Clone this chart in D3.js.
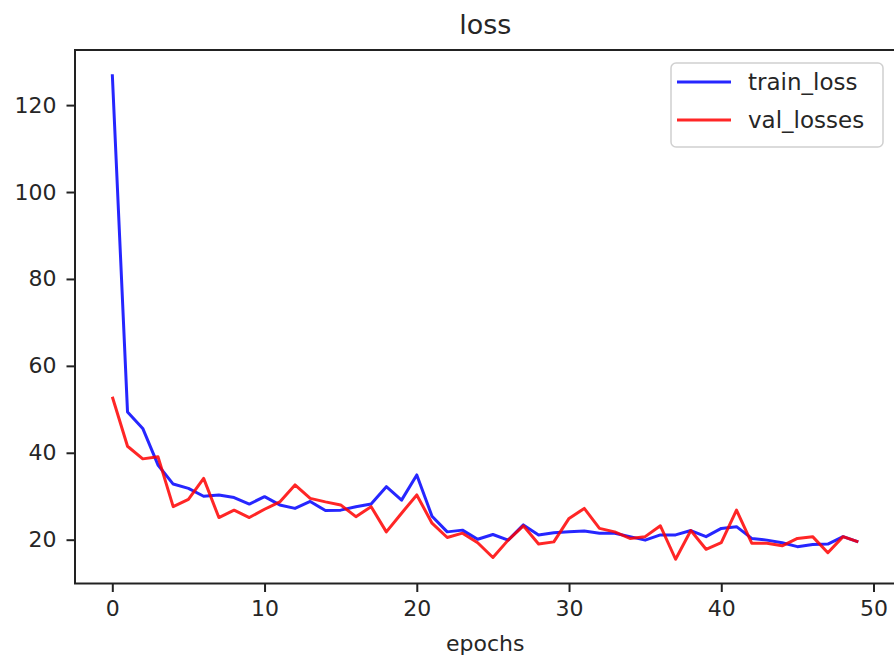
<!DOCTYPE html>
<html>
<head>
<meta charset="utf-8">
<script src="https://cdn.jsdelivr.net/npm/d3@7"></script>
<style>
    body { margin: 0; background: #fff; }
    svg { display: block; font-family: "DejaVu Sans", sans-serif; }
</style>
</head>
<body>
<div id="chart"></div>
<script>
// Loss per epoch
const epochs = d3.range(0, 50);
const trainLoss = [
    127.1, 49.4, 45.6, 37.2, 32.8, 31.8, 30.0, 30.3, 29.7, 28.2,
    29.9, 28.0, 27.2, 28.8, 26.7, 26.8, 27.6, 28.2, 32.2, 29.1,
    34.9, 25.4, 21.8, 22.2, 20.1, 21.2, 19.9, 23.4, 21.1, 21.6,
    21.8, 22.0, 21.5, 21.5, 20.7, 19.9, 21.1, 21.1, 22.1, 20.7,
    22.6, 23.0, 20.3, 19.9, 19.3, 18.4, 18.9, 19.0, 20.7, 19.5
];
const valLosses = [
    52.9, 41.5, 38.6, 39.1, 27.6, 29.3, 34.1, 25.1, 26.8, 25.1,
    27.0, 28.7, 32.6, 29.5, 28.7, 28.0, 25.3, 27.6, 21.8, 26.1,
    30.3, 23.8, 20.5, 21.5, 19.3, 15.9, 19.9, 23.2, 19.0, 19.5,
    24.9, 27.2, 22.6, 21.8, 20.3, 20.7, 23.2, 15.5, 22.1, 17.8,
    19.3, 26.8, 19.2, 19.2, 18.6, 20.3, 20.7, 17.0, 20.7, 19.5
];
const xTicks = [0, 10, 20, 30, 40, 50];
const yTicks = [20, 40, 60, 80, 100, 120];
const seriesNames = ['train_loss', 'val_losses'];
const seriesColors = ['#0000ff', '#ff0000'];

const W = 894, H = 658;
const frame = { left: 75, top: 50, bottom: 583.5 };
const fontSize = 22;

const svg = d3.select('#chart')
    .append('svg')
    .attr('width', W)
    .attr('height', H);

// matplotlib style 5% margins on both axes
const xPad = (d3.max(epochs) - d3.min(epochs)) * 0.05;
const x = d3.scaleLinear()
    .domain([d3.min(epochs) - xPad, d3.max(epochs) + xPad])
    .range([frame.left, 895.6]);

const allLoss = [...trainLoss, ...valLosses];
const yPad = (d3.max(allLoss) - d3.min(allLoss)) * 0.05;
const y = d3.scaleLinear()
    .domain([d3.min(allLoss) - yPad, d3.max(allLoss) + yPad])
    .range([frame.bottom, frame.top]);

// Lines
const line = d3.line()
    .x((d, i) => x(epochs[i]))
    .y(d => y(d));

[trainLoss, valLosses].forEach((series, k) => {
    svg.append('path')
        .datum(series)
        .attr('fill', 'none')
        .attr('stroke', seriesColors[k])
        .attr('stroke-opacity', 0.85)
        .attr('stroke-width', 3)
        .attr('stroke-linejoin', 'round')
        .attr('d', line);
});

// Axes
const xAxis = svg.append('g')
    .attr('transform', `translate(0,${frame.bottom})`)
    .call(d3.axisBottom(x).tickValues(xTicks).tickSize(8.5).tickPadding(8).tickFormat(d3.format('d')));

const yAxis = svg.append('g')
    .attr('transform', `translate(${frame.left},0)`)
    .call(d3.axisLeft(y).tickValues(yTicks).tickSize(8.5).tickPadding(10).tickFormat(d3.format('d')));

[xAxis, yAxis].forEach(g => {
    g.select('.domain').remove();
    g.selectAll('line').attr('stroke', '#222').attr('stroke-width', 2);
    g.selectAll('text')
        .attr('fill', '#262626')
        .style('font-size', fontSize + 'px')
        .style('font-family', '"DejaVu Sans", sans-serif');
});

// Frame (right spine falls just outside the picture)
svg.append('rect')
    .attr('x', frame.left)
    .attr('y', frame.top)
    .attr('width', x.range()[1] - frame.left)
    .attr('height', frame.bottom - frame.top)
    .attr('fill', 'none')
    .attr('stroke', '#222')
    .attr('stroke-width', 2);

// Title and x label
svg.append('text')
    .attr('x', (frame.left + x.range()[1]) / 2)
    .attr('y', 34)
    .attr('text-anchor', 'middle')
    .attr('fill', '#262626')
    .style('font-size', '27px')
    .text('loss');

svg.append('text')
    .attr('x', (frame.left + x.range()[1]) / 2)
    .attr('y', 651)
    .attr('text-anchor', 'middle')
    .attr('fill', '#262626')
    .style('font-size', fontSize + 'px')
    .text('epochs');

// Legend
const legend = svg.append('g').attr('transform', 'translate(671,63)');
legend.append('rect')
    .attr('width', 212)
    .attr('height', 84)
    .attr('rx', 5)
    .attr('fill', '#fff')
    .attr('fill-opacity', 0.8)
    .attr('stroke', '#d0d0d0')
    .attr('stroke-width', 1.5);

seriesNames.forEach((name, k) => {
    const row = legend.append('g').attr('transform', `translate(0,${19 + k * 38})`);
    row.append('line')
        .attr('x1', 6).attr('x2', 60)
        .attr('stroke', seriesColors[k])
        .attr('stroke-opacity', 0.85)
        .attr('stroke-width', 3);
    row.append('text')
        .attr('x', 77)
        .attr('dy', '0.35em')
        .attr('fill', '#262626')
        .style('font-size', '23px')
        .text(name);
});
</script>
</body>
</html>
